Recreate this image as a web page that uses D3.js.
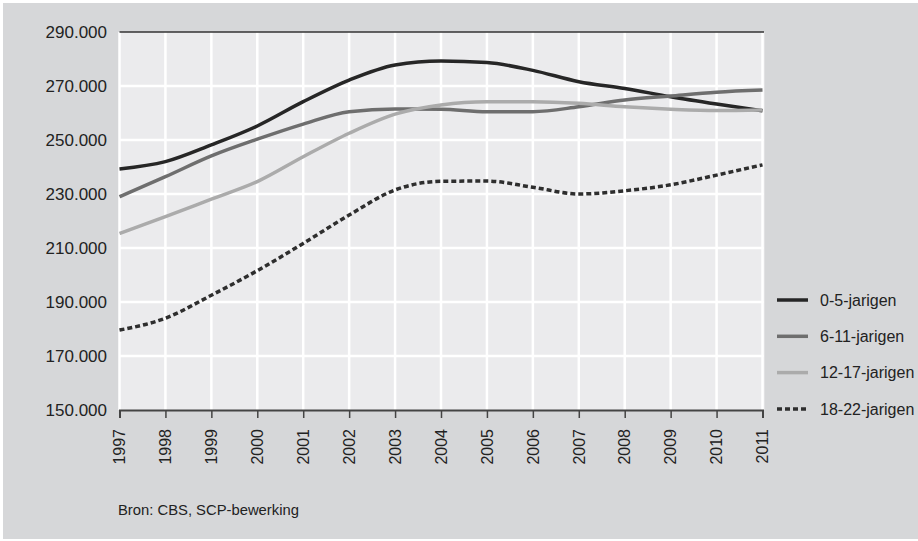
<!DOCTYPE html>
<html>
<head>
<meta charset="utf-8">
<script src="https://cdn.jsdelivr.net/npm/d3@7"></script>
<style>
  body { margin: 0; background: #fff; }
  svg { display: block; font-family: "Liberation Sans", Arial, sans-serif; }
</style>
</head>
<body>
<script>
// data
const years = [1997, 1998, 1999, 2000, 2001, 2002, 2003, 2004, 2005, 2006, 2007, 2008, 2009, 2010, 2011];
const age_0_5 = [239300, 242000, 248200, 255200, 264200, 272200, 277800, 279300, 278700, 275800, 271600, 269100, 266000, 263300, 260800];
const age_6_11 = [229000, 236400, 244100, 250300, 255900, 260500, 261500, 261400, 260500, 260500, 262300, 264800, 266300, 267700, 268500];
const age_12_17 = [215400, 221600, 228100, 234600, 243800, 252500, 259600, 263000, 264200, 264200, 263600, 262300, 261400, 260900, 261100];
const age_18_22 = [179600, 184000, 192500, 201600, 211700, 222200, 231500, 234700, 234800, 232500, 230000, 231200, 233400, 237000, 240800];
const series_names = ["0-5-jarigen", "6-11-jarigen", "12-17-jarigen", "18-22-jarigen"];
const y_ticks = [150000, 170000, 190000, 210000, 230000, 250000, 270000, 290000];

const all_series = [age_0_5, age_6_11, age_12_17, age_18_22];
const colors = ["#262626", "#6e6e6e", "#ababab", "#2e2e2e"];
const dashes = [null, null, null, "5,3"];

const W = 918, H = 541;
const x = d3.scaleLinear().domain([1997, 2011]).range([119.5, 762.5]);
const y = d3.scaleLinear().domain([150000, 290000]).range([410, 32]);

const nl = d3.formatLocale({decimal: ",", thousands: ".", grouping: [3], currency: ["€", ""]});
const fmt = nl.format(",.0f");

const svg = d3.select("body").append("svg")
    .attr("width", W)
    .attr("height", H);

// panel background
svg.append("rect")
    .attr("x", 3).attr("y", 3)
    .attr("width", W - 3).attr("height", H - 5)
    .attr("fill", "#d6d7d9");

// plot area
svg.append("rect")
    .attr("x", x(1997)).attr("y", y(290000))
    .attr("width", x(2011) - x(1997) + 2).attr("height", y(150000) - y(290000))
    .attr("fill", "#ebebed");

// gridlines
svg.append("g").selectAll("line")
  .data(years)
  .join("line")
    .attr("x1", d => x(d)).attr("x2", d => x(d))
    .attr("y1", y(290000)).attr("y2", y(150000))
    .attr("stroke", "#fff").attr("stroke-width", 2.5);

svg.append("g").selectAll("line")
  .data(y_ticks.slice(1, -1))
  .join("line")
    .attr("x1", x(1997)).attr("x2", x(2011) + 1)
    .attr("y1", d => y(d)).attr("y2", d => y(d))
    .attr("stroke", "#fff").attr("stroke-width", 2.5);

// top border
svg.append("line")
    .attr("x1", x(1997)).attr("x2", x(2011) + 1.5)
    .attr("y1", y(290000)).attr("y2", y(290000))
    .attr("stroke", "#333").attr("stroke-width", 1.5);

// y axis labels
svg.append("g").selectAll("text")
  .data(y_ticks)
  .join("text")
    .attr("x", 107)
    .attr("y", d => y(d))
    .attr("dy", "0.36em")
    .attr("text-anchor", "end")
    .attr("font-size", 17)
    .attr("fill", "#222")
    .text(d => fmt(d));

// x axis
const xAxis = svg.append("g")
    .attr("transform", "translate(0," + y(150000) + ")")
    .call(d3.axisBottom(x).tickValues(years).tickSize(8).tickFormat(""));
xAxis.select(".domain").attr("stroke", "#444").attr("stroke-width", 2);
xAxis.selectAll(".tick line").attr("stroke", "#444").attr("stroke-width", 1.5);

svg.append("g").selectAll("text")
  .data(years)
  .join("text")
    .attr("transform", d => "translate(" + x(d) + ",429) rotate(-90)")
    .attr("dy", "0.36em")
    .attr("text-anchor", "end")
    .attr("font-size", 16)
    .attr("fill", "#222")
    .text(d => d);

// lines
const line = d3.line()
    .x((d, i) => x(years[i]))
    .y(d => y(d))
    .curve(d3.curveMonotoneX);

for (let i = 0; i < all_series.length; i++) {
  svg.append("path")
      .datum(all_series[i])
      .attr("d", line)
      .attr("fill", "none")
      .attr("stroke", colors[i])
      .attr("stroke-width", 3.5)
      .attr("stroke-dasharray", dashes[i]);
}

// legend
const legend = svg.append("g").selectAll("g")
  .data(series_names)
  .join("g")
    .attr("transform", (d, i) => "translate(777," + (300 + i * 36.3) + ")");
legend.append("line")
    .attr("x1", 0).attr("x2", 31)
    .attr("stroke", (d, i) => colors[i])
    .attr("stroke-width", 3.5)
    .attr("stroke-dasharray", (d, i) => dashes[i]);
legend.append("text")
    .attr("x", 43)
    .attr("dy", "0.36em")
    .attr("font-size", 16)
    .attr("fill", "#222")
    .text(d => d);

// source
svg.append("text")
    .attr("x", 118).attr("y", 515)
    .attr("font-size", 14.8)
    .attr("fill", "#222")
    .text("Bron: CBS, SCP-bewerking");
</script>
</body>
</html>
